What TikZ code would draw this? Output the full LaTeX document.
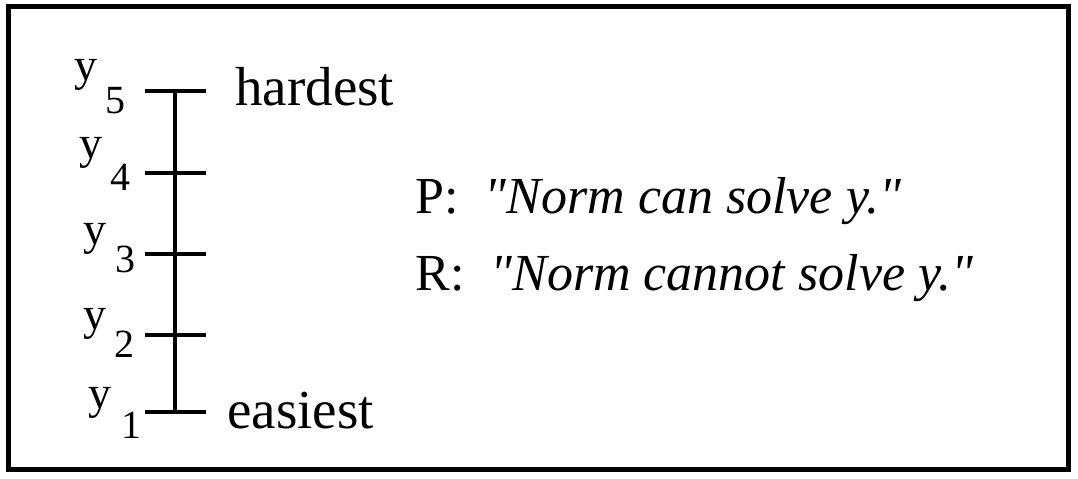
\documentclass[tikz,border=0pt]{standalone}
\usepackage{fontspec}
\setmainfont{Liberation Serif}[Ligatures=TeXOff]
\usepackage{tikz}
\usetikzlibrary{positioning}

\tikzset{
  scaleline/.style={line width=2pt},
  lbl/.style={inner sep=0pt,anchor=base west,font=\fontsize{23}{27}\selectfont},
  sublbl/.style={inner sep=0pt,anchor=base west,font=\fontsize{20}{24}\selectfont},
  endlbl/.style={inner sep=0pt,anchor=base west,font=\fontsize{27.5}{32}\selectfont},
  txt/.style={inner sep=0pt,anchor=base west,font=\fontsize{26}{31}\selectfont}
}

\begin{document}
\begin{tikzpicture}[x=0.5pt,y=-0.5pt]
\useasboundingbox (0,0) rectangle (1078,478);
\draw [line width=2.5pt] (8.5,6) rectangle (1068.5,469);
% scale with ticks
\coordinate (t5) at (175,91);
\coordinate (t4) at (175,173);
\coordinate (t3) at (175,254);
\coordinate (t2) at (175,335);
\coordinate (t1) at (175,412);
\draw [scaleline] (t1)--(t5);
\draw [scaleline] ([xshift=-15pt]t5)--([xshift=15.5pt]t5);
\draw [scaleline] ([xshift=-15pt]t4)--([xshift=15.5pt]t4);
\draw [scaleline] ([xshift=-15pt]t3)--([xshift=15.5pt]t3);
\draw [scaleline] ([xshift=-15pt]t2)--([xshift=15.5pt]t2);
\draw [scaleline] ([xshift=-15pt]t1)--([xshift=15.5pt]t1);
% labels
\node [lbl] (y5) at (74,80) {y};
\node [sublbl] (n5) at (105,113) {5};
\node [lbl] (y4) at (79,158) {y};
\node [sublbl] (n4) at (110,190) {4};
\node [lbl] (y3) at (83,244) {y};
\node [sublbl] (n3) at (115,272) {3};
\node [lbl] (y2) at (83,329) {y};
\node [sublbl] (n2) at (114,357) {2};
\node [lbl] (y1) at (88,408) {y};
\node [sublbl] (n1) at (121,438) {1};
\node [endlbl] (hard) at (235,105) {hardest};
\node [endlbl] (easy) at (227,428) {easiest};
% statements
\node [txt] (p) at (415,213) {P:\hspace{0.5em}\textit{"Norm can solve y."}};
\node [txt] (r) at (415,290) {R:\hspace{0.5em}\textit{"Norm cannot solve y."}};
\end{tikzpicture}
\end{document}
